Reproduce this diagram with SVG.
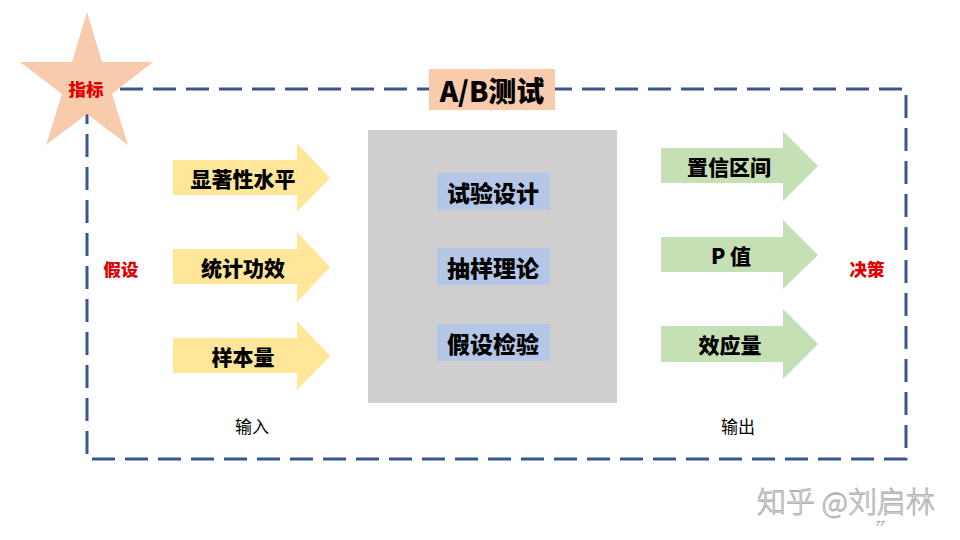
<svg xmlns="http://www.w3.org/2000/svg" width="960" height="540" viewBox="0 0 960 540">
<style>
.cjk{font-family:"Noto Sans CJK SC","Liberation Sans",sans-serif;}
.b{font-weight:900;}
.lbl{font-size:21px;fill:#000;text-anchor:middle;dominant-baseline:central;}
.box{font-size:23px;fill:#000;text-anchor:middle;dominant-baseline:central;}
.red{font-size:17.5px;fill:#E00000;text-anchor:middle;dominant-baseline:central;}
.plain{font-size:17px;fill:#000;text-anchor:middle;dominant-baseline:central;}
.yel{fill:#FFE699;}
.grn{fill:#C5E0B4;}
.blu{fill:#B4C7E7;}
</style>
<rect width="960" height="540" fill="#fff"/>
<g id="connectors">
<rect x="87" y="89" width="819" height="370" fill="none" stroke="#38578F" stroke-width="3" stroke-dasharray="23 10"/>
</g>
<g id="star">
<polygon points="87,12 102,62 153,62 112,94 128,145 87,114 46,145 62,94 20,62 72,62" fill="#F8CBAD"/>
<text class="cjk b red" x="86" y="88">指标</text>
</g>
<g id="title">
<rect x="429" y="69" width="126" height="41" fill="#F8CBAD"/>
<text class="cjk b" x="492" y="90" font-size="28" text-anchor="middle" dominant-baseline="central" fill="#000">A/B测试</text>
</g>
<g id="core">
<rect x="368" y="130" width="249" height="273" fill="#D0CECE"/>
</g>
<g id="n-design">
<rect class="blu" x="437" y="173" width="113" height="37"/>
<text class="cjk b box" x="493" y="191.5">试验设计</text>
</g>
<g id="n-sampling">
<rect class="blu" x="437" y="248" width="113" height="37"/>
<text class="cjk b box" x="493" y="266.5">抽样理论</text>
</g>
<g id="n-test">
<rect class="blu" x="437" y="324" width="113" height="37"/>
<text class="cjk b box" x="493" y="342.5">假设检验</text>
</g>
<g id="in-1">
<polygon class="yel" points="173,160 297,160 297,143 330,178 297,212 297,195 173,195"/>
<text class="cjk b lbl" x="243" y="178">显著性水平</text>
</g>
<g id="in-2">
<polygon class="yel" points="173,249 297,249 297,232 330,267 297,302 297,284 173,284"/>
<text class="cjk b lbl" x="243" y="267">统计功效</text>
</g>
<g id="in-3">
<polygon class="yel" points="173,338 297,338 297,321 330,356 297,390 297,373 173,373"/>
<text class="cjk b lbl" x="243" y="356">样本量</text>
</g>
<g id="out-1">
<polygon class="grn" points="661,148 783,148 783,131 818,166 783,201 783,183 661,183"/>
<text class="cjk b lbl" x="729" y="166">置信区间</text>
</g>
<g id="out-2">
<polygon class="grn" points="661,237 783,237 783,220 818,255 783,289 783,272 661,272"/>
<text class="cjk b lbl" x="731" y="255">P 值</text>
</g>
<g id="out-3">
<polygon class="grn" points="661,326 783,326 783,309 818,344 783,379 783,362 661,362"/>
<text class="cjk b lbl" x="730" y="344">效应量</text>
</g>
<g id="labels">
<text class="cjk b red" x="121" y="268">假设</text>
<text class="cjk b red" x="867" y="268">决策</text>
<text class="cjk plain" x="252" y="425">输入</text>
<text class="cjk plain" x="738" y="425">输出</text>
</g>
<g id="watermark">
<text class="cjk" x="846" y="500" font-size="29" font-weight="300" text-anchor="middle" dominant-baseline="central" fill="#F2F2F2" stroke="#A8A8A8" stroke-width="0.8">知乎 @刘启林</text>
<text x="880" y="523" font-family="Liberation Sans, sans-serif" font-size="8" font-style="italic" fill="#777" text-anchor="middle" dominant-baseline="central">77</text>
</g>
</svg>
